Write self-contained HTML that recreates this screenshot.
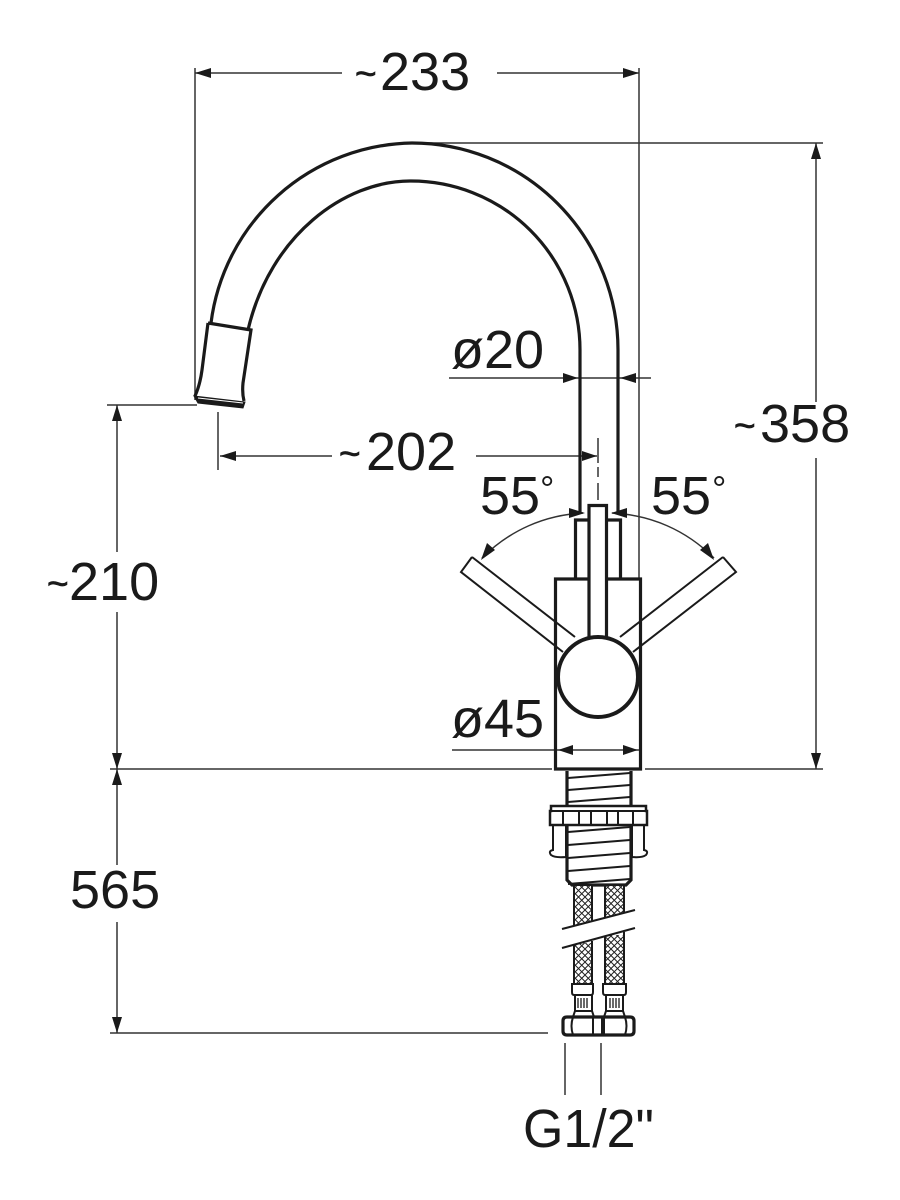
<!DOCTYPE html>
<html><head><meta charset="utf-8"><style>
html,body{margin:0;padding:0;background:#fff;width:900px;height:1200px;overflow:hidden}
svg{display:block}
text{font-family:"Liberation Sans",sans-serif;font-size:54px;fill:#1a1a1a}
.t{font-size:37px;stroke:#1a1a1a;stroke-width:.7}
.o{font-size:36px}
.d{stroke:#333;stroke-width:1.5;fill:none}
.m{stroke:#1a1a1a;stroke-width:3.2;fill:none}
.s{stroke:#1a1a1a;stroke-width:2;fill:none}
.h{stroke:#1a1a1a;stroke-width:1.3;fill:none}
.a{fill:#1a1a1a;stroke:none}
</style></head><body>
<svg width="900" height="1200" viewBox="0 0 900 1200" xmlns="http://www.w3.org/2000/svg">
<defs><pattern id="mesh" width="6.5" height="6.5" patternUnits="userSpaceOnUse">
<rect width="6.5" height="6.5" fill="#fff"/><path d="M0 0L6.5 6.5M6.5 0L0 6.5" stroke="#222" stroke-width="1"/></pattern></defs>

<!-- dimension lines -->
<path class="d" d="M195 68V400M639 68V578M195 73H342M497 73H639"/>
<path class="d" d="M410 143H823M816 143V402M816 458V769M107 405H197M117 405V552M117 612V769"/>
<path class="d" d="M110 769H552M645 769H823M117 769V865M117 922V1033M110 1033H548"/>
<path class="d" d="M218 412V470M220 456H332M476 456H597M449 378H651"/>
<path class="d" d="M452 750H640M565 1043V1095M601 1043V1095"/>
<path class="d" d="M598 438V463M598 467V477M598 483V500"/>
<path class="a" d="M195 73l16-5v10zM639 73l-16-5v10zM816 143l-5 16h10zM816 769l-5-16h10zM117 405l-5 16h10zM117 769l-5-16h10zM117 769l-5 16h10zM117 1033l-5-16h10zM220 456l16-5v10zM597 456l-15-5v10zM578 378l-15-5v10zM620 378l16-5v10zM558 750l15-5v10zM638 750l-15-5v10z"/>

<!-- 55 deg arcs -->
<path class="d" d="M482 558C510 530 545 515 583 513M714 558C686 530 651 515 612 513"/>
<path class="a" d="M481 560l6-17 8 7zM714 560l-6-17-8 7zM585 513l-16-5v10zM611 513l16-5v10z"/>

<!-- spout -->
<path class="m" d="M618 512V350A206 207 0 0 0 412 143A206 206 0 0 0 211 323"/>
<path class="m" d="M580 512V350A169 169 0 0 0 410 181C345 181 270 235 248 330"/>
<!-- nozzle -->
<path class="m" d="M208 323L251 330L243 383Q242 393 244 401M208 323L202 370Q200 385 195 396"/>
<path d="M194 396L245 402L243 408L198 403Z" fill="#1a1a1a" stroke="#1a1a1a" stroke-width="1"/>
<path d="M198 398L243 403" stroke="#fff" stroke-width="1" fill="none"/>

<!-- levers -->
<path class="s" d="M472 557L461 572L563 652M472 557L575 637M723 557L736 572L633 652M723 557L620 637"/>
<!-- body -->
<path class="m" d="M555.5 579H640.5V769H555.5Z"/>
<path class="m" d="M575.5 579V520H588M620.5 579V520H607"/>
<path d="M589 640V505.5H606.5V640" fill="#fff" stroke="#1a1a1a" stroke-width="3.2"/>
<circle cx="598" cy="677" r="40" fill="#fff" stroke="#1a1a1a" stroke-width="4"/>

<!-- thread -->
<path class="m" d="M567 771V880L572 885H626L631 880V771"/>
<path class="s" d="M568 778L630 773M568 790L630 785M568 802L630 797M568 832L630 827M568 845L630 840M568 858L630 853M568 871L630 866M568 884L630 879"/>
<path d="M551 806H646V811H647V825H550V811H551Z" fill="#fff" stroke="#1a1a1a" stroke-width="2.5"/>
<path class="s" d="M551 811H647M563 811V825M579 811V825M591 811V825M607 811V825M618 811V825M633 811V825"/>
<path class="s" stroke-width="2.5" d="M553 825V850Q548 851 551 855Q555 858 566 857V825M644 825V850Q649 851 646 855Q642 858 632 857V825"/>

<!-- hoses -->
<rect x="574" y="886" width="18" height="46" fill="url(#mesh)"/>
<rect x="605" y="886" width="19" height="38" fill="url(#mesh)"/>
<rect x="574" y="943" width="18" height="42" fill="url(#mesh)"/>
<rect x="605" y="935" width="19" height="50" fill="url(#mesh)"/>
<path d="M562 929L635 910L635 928L562 948Z" fill="#fff"/>
<path class="s" stroke-width="2.5" d="M574 886V925M592 886V922M605 886V918M624 886V912M574 945V985M592 941V985M605 937V985M624 932V985"/>
<path class="s" d="M562 929L635 910M562 948L635 928"/>

<!-- fittings -->
<path class="s" stroke-width="2.5" d="M572 984H593V992Q593 995 591 995H574Q572 995 572 992ZM603 984H626V992Q626 995 624 995H605Q603 995 603 992Z"/>
<path class="s" stroke-width="2.5" d="M575 995V1011L573 1017M592 995V1011L594 1017M606 995V1011L604 1017M623 995V1011L625 1017M575 1011H592M606 1011H623"/>
<path class="h" d="M578 998V1008M581 998V1008M584 998V1008M587 998V1008M610 998V1008M613 998V1008M616 998V1008M619 998V1008"/>
<path class="m" d="M567 1017H630Q634 1017 634 1021V1031Q634 1035 630 1035H567Q563 1035 563 1031V1021Q563 1017 567 1017Z"/>
<path class="s" d="M573 1017Q570 1026 573 1035M593 1017V1035M602 1017V1035M604 1017V1035M625 1017Q628 1026 625 1035"/>

<!-- labels -->
<text class="t" x="355" y="86">~</text><text x="380" y="90">233</text>
<text class="t" x="734" y="438">~</text><text x="760" y="442">358</text>
<text class="t" x="339" y="466">~</text><text x="366" y="470">202</text>
<text class="t" x="47" y="596">~</text><text x="69" y="600">210</text>
<text x="70" y="908">565</text>
<text x="451" y="368">ø20</text>
<text x="451" y="737">ø45</text>
<text x="480" y="514">55</text><text class="o" x="540" y="501">°</text>
<text x="651" y="514">55</text><text class="o" x="712" y="501">°</text>
<text x="523" y="1147" textLength="131" lengthAdjust="spacingAndGlyphs">G1/2"</text>
</svg>
</body></html>
